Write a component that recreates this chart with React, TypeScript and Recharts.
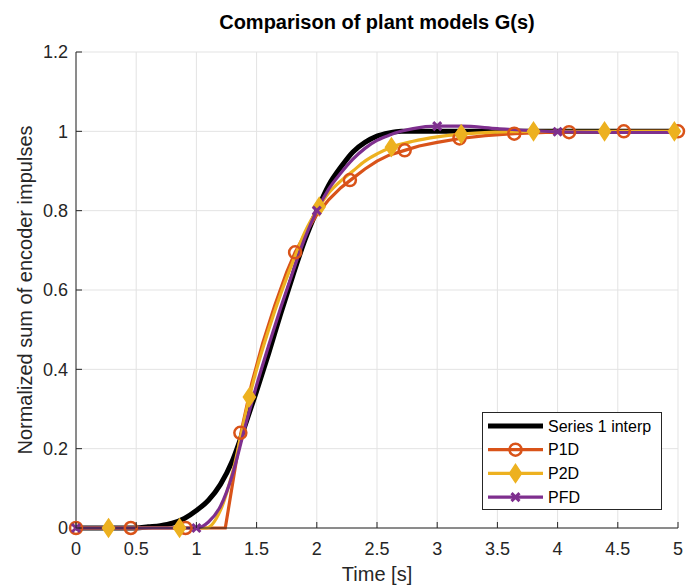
import React from "react";
import { ComposedChart, Line, XAxis, YAxis, CartesianGrid, Legend, Label } from "recharts";

// Measured response (interpolated), thick black line
const refTime = [0, 0.5, 0.6, 0.7, 0.8, 0.9, 1.0, 1.1, 1.2, 1.3, 1.4, 1.5, 1.6, 1.7, 1.8, 1.9, 2.0, 2.1, 2.2, 2.3, 2.4, 2.5, 2.6, 2.7, 3.0, 4.0, 5.0];
const refValue = [0, 0, 0.003, 0.006, 0.012, 0.024, 0.044, 0.07, 0.11, 0.17, 0.255, 0.345, 0.44, 0.54, 0.635, 0.725, 0.8, 0.865, 0.91, 0.948, 0.972, 0.988, 0.996, 1.0, 1.0, 1.0, 1.0];

// P1D model (first order + dead time)
const p1dTime = [0, 1.24, 1.37, 1.46, 1.55, 1.65, 1.75, 1.82, 1.9, 2.0, 2.1, 2.2, 2.28, 2.4, 2.5, 2.6, 2.73, 2.85, 3.0, 3.19, 3.4, 3.64, 3.9, 4.1, 4.55, 5.0];
const p1dValue = [0, 0, 0.24, 0.365, 0.465, 0.56, 0.645, 0.695, 0.74, 0.79, 0.828, 0.858, 0.877, 0.905, 0.925, 0.94, 0.952, 0.963, 0.972, 0.982, 0.989, 0.994, 0.997, 0.998, 1.0, 1.0];
const p1dMarkTime = [0, 0.455, 0.91, 1.365, 1.82, 2.275, 2.73, 3.185, 3.64, 4.095, 4.55, 5.0];
const p1dMarkValue = [0, 0, 0, 0.24, 0.695, 0.877, 0.952, 0.982, 0.994, 0.998, 1.0, 1.0];

// P2D model
const p2dTime = [0, 1.08, 1.2, 1.3, 1.44, 1.5, 1.6, 1.7, 1.8, 1.9, 2.02, 2.1, 2.2, 2.3, 2.4, 2.5, 2.62, 2.8, 3.0, 3.2, 3.5, 3.8, 5.0];
const p2dValue = [0, 0, 0.045, 0.14, 0.33, 0.4, 0.5, 0.59, 0.67, 0.745, 0.81, 0.845, 0.875, 0.9, 0.925, 0.943, 0.96, 0.975, 0.986, 0.993, 0.998, 1.0, 1.0];
const p2dMarkTime = [0.27, 0.86, 1.44, 2.02, 2.62, 3.2, 3.8, 4.39, 4.97];
const p2dMarkValue = [0, 0, 0.33, 0.81, 0.96, 0.993, 1.0, 1.0, 1.0];

// PFD model
const pfdTime = [0, 1.0, 1.05, 1.1, 1.2, 1.3, 1.4, 1.5, 1.6, 1.7, 1.8, 1.9, 2.0, 2.1, 2.2, 2.3, 2.4, 2.5, 2.6, 2.7, 2.8, 3.0, 3.2, 3.5, 4.0, 4.5, 5.0];
const pfdValue = [0, 0, 0.004, 0.015, 0.055, 0.135, 0.25, 0.36, 0.46, 0.555, 0.645, 0.73, 0.8, 0.855, 0.895, 0.93, 0.957, 0.977, 0.99, 1.0, 1.007, 1.013, 1.013, 1.007, 0.999, 0.997, 0.997];
const pfdMarkTime = [0, 1, 2, 3, 4];
const pfdMarkValue = [0, 0, 0.8, 1.013, 0.999];

const xTicks = [0, 0.5, 1, 1.5, 2, 2.5, 3, 3.5, 4, 4.5, 5];
const yTicks = [0, 0.2, 0.4, 0.6, 0.8, 1, 1.2];
const seriesNames = ["Series 1 interp", "P1D", "P2D", "PFD"];

const BLACK = "#000000";
const ORANGE = "#D95319";
const YELLOW = "#EDB120";
const PURPLE = "#7E2F8E";
const AXIS = "#262626";
const FONT = "'Liberation Sans', Arial, Helvetica, sans-serif";

const rows = (t: number[], v: number[]) => t.map((x, i) => ({ t: x, v: v[i] }));

const refData = rows(refTime, refValue);
const p1dData = rows(p1dTime, p1dValue);
const p1dMarks = rows(p1dMarkTime, p1dMarkValue);
const p2dData = rows(p2dTime, p2dValue);
const p2dMarks = rows(p2dMarkTime, p2dMarkValue);
const pfdData = rows(pfdTime, pfdValue);
const pfdMarks = rows(pfdMarkTime, pfdMarkValue);

const X_MARGIN = 14;
const Y_MARGIN = 8;
const TICK_LEN = 6;

const circleMark = (cx: number, cy: number, k?: any) => (
  <circle key={k} cx={cx} cy={cy} r={6} fill="none" stroke={ORANGE} strokeWidth={2.5} />
);
const diamondMark = (cx: number, cy: number, k?: any) => (
  <path key={k} d={`M${cx},${cy - 9}L${cx + 6},${cy}L${cx},${cy + 9}L${cx - 6},${cy}Z`} fill={YELLOW} stroke={YELLOW} strokeWidth={1.5} />
);
const crossMark = (cx: number, cy: number, k?: any) => (
  <path key={k} d={`M${cx - 4},${cy - 4}L${cx + 4},${cy + 4}M${cx - 4},${cy + 4}L${cx + 4},${cy - 4}`} stroke={PURPLE} strokeWidth={3} fill="none" />
);

const XTick = (props: any) => {
  const { x, y, payload } = props;
  const axisY = y - X_MARGIN;
  return (
    <g>
      <line x1={x} x2={x} y1={axisY} y2={axisY - TICK_LEN} stroke={AXIS} strokeWidth={1} />
      <text x={x} y={y} dy="0.71em" textAnchor="middle" fill={AXIS} fontSize={18}>{payload.value}</text>
    </g>
  );
};

const YTick = (props: any) => {
  const { x, y, payload } = props;
  const axisX = x + Y_MARGIN;
  return (
    <g>
      <line x1={axisX} x2={axisX + TICK_LEN} y1={y} y2={y} stroke={AXIS} strokeWidth={1} />
      <text x={x} y={y} dy="0.355em" textAnchor="end" fill={AXIS} fontSize={18}>{payload.value}</text>
    </g>
  );
};

const XLabel = (props: any) => {
  const { x, y, width } = props.viewBox;
  return <text x={x + width / 2} y={y + 53} textAnchor="middle" fill={AXIS} fontSize={20}>Time [s]</text>;
};

const YLabel = (props: any) => {
  const { x, y, height } = props.viewBox;
  const cx = x + 32;
  const cy = y + height / 2;
  return (
    <text x={cx} y={cy} transform={`rotate(-90 ${cx} ${cy})`} textAnchor="middle" fill={AXIS} fontSize={20}>
      Normalized sum of encoder impulses
    </text>
  );
};

const LegendBox = () => {
  const colors = [BLACK, ORANGE, YELLOW, PURPLE];
  const marks = [null, circleMark, diamondMark, crossMark];
  return (
    <div style={{ width: 180, height: 98, border: `1px solid ${AXIS}`, background: "#fff", boxSizing: "border-box" }}>
      <svg width={178} height={96}>
        {seriesNames.map((name, i) => {
          const cy = 13 + i * 23.7;
          const m = marks[i];
          return (
            <g key={name}>
              <line x1={5} x2={60} y1={cy} y2={cy} stroke={colors[i]} strokeWidth={i === 0 ? 5 : 3.2} />
              {m ? m(32.5, cy) : null}
              <text x={65} y={cy} dy="0.355em" fontSize={16} fill="#000" fontFamily={FONT}>{name}</text>
            </g>
          );
        })}
      </svg>
    </div>
  );
};

export default function App() {
  return (
    <div style={{ position: "absolute", left: 0, top: 0, width: 696, height: 586, background: "#fff", fontFamily: FONT }}>
      <ComposedChart width={696} height={586} margin={{ top: 52, right: 18, bottom: 0, left: 0 }}>
        <CartesianGrid stroke="#e3e3e3" strokeWidth={1} />
        <XAxis
          type="number"
          dataKey="t"
          domain={[0, 5]}
          ticks={xTicks}
          height={58}
          tickSize={0}
          tickMargin={X_MARGIN}
          tick={<XTick />}
          tickLine={false}
          axisLine={{ stroke: AXIS, strokeWidth: 1 }}
        >
          <Label content={<XLabel />} />
        </XAxis>
        <YAxis
          type="number"
          domain={[0, 1.2]}
          ticks={yTicks}
          width={76}
          tickSize={0}
          tickMargin={Y_MARGIN}
          tick={<YTick />}
          tickLine={false}
          axisLine={{ stroke: AXIS, strokeWidth: 1 }}
        >
          <Label content={<YLabel />} />
        </YAxis>
        <Legend layout="vertical" align="center" verticalAlign="middle" content={<LegendBox />}
          wrapperStyle={{ left: 482, top: 412, width: 180, height: 98 }} />

        <Line data={refData} dataKey="v" type="monotone" stroke={BLACK} strokeWidth={5} dot={false} activeDot={false} isAnimationActive={false} />

        <Line data={p1dData} dataKey="v" type="linear" stroke={ORANGE} strokeWidth={3.2} dot={false} activeDot={false} isAnimationActive={false} />
        <Line data={p1dMarks} dataKey="v" stroke="none" dot={(p: any) => circleMark(p.cx, p.cy, p.key ?? `c${p.index}`)} activeDot={false} isAnimationActive={false} />

        <Line data={p2dData} dataKey="v" type="monotone" stroke={YELLOW} strokeWidth={3.2} dot={false} activeDot={false} isAnimationActive={false} />
        <Line data={p2dMarks} dataKey="v" stroke="none" dot={(p: any) => diamondMark(p.cx, p.cy, p.key ?? `d${p.index}`)} activeDot={false} isAnimationActive={false} />

        <Line data={pfdData} dataKey="v" type="monotone" stroke={PURPLE} strokeWidth={3.2} dot={false} activeDot={false} isAnimationActive={false} />
        <Line data={pfdMarks} dataKey="v" stroke="none" dot={(p: any) => crossMark(p.cx, p.cy, p.key ?? `x${p.index}`)} activeDot={false} isAnimationActive={false} />
      </ComposedChart>
      <div style={{ position: "absolute", left: 58, top: 12, width: 638, textAlign: "center", fontSize: 20, lineHeight: "20px", fontWeight: "bold", color: "#000" }}>
        Comparison of plant models G(s)
      </div>
    </div>
  );
}
